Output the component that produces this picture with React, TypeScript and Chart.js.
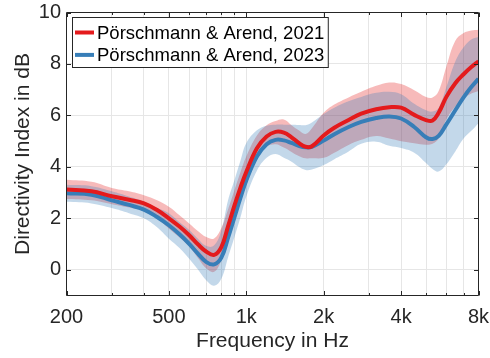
import React, { useEffect, useRef } from "react";
import { Chart, registerables } from "chart.js";

Chart.register(...registerables);

// Frequency grid of the smoothed curves (Hz)
const freqHz = [
  200, 250, 300, 350, 400, 450, 500, 550, 600, 650, 700, 750, 800, 850, 900, 950,
  1000, 1100, 1200, 1300, 1400, 1500, 1600, 1700, 1800,
  2000, 2200, 2500, 2800, 3200, 3600, 4000,
  4500, 5000, 5300, 5600, 6000, 6500, 7000, 7500, 8000,
];

// Pörschmann & Arend, 2021 — mean and spread (dB)
const di2021Mean = [
  3.12, 3.05, 2.86, 2.72, 2.58, 2.32, 2.0, 1.68, 1.34, 0.98, 0.7, 0.58, 0.88, 1.7, 2.5, 3.2,
  3.8, 4.72, 5.18, 5.36, 5.33, 5.15, 4.93, 4.78, 4.8,
  5.22, 5.52, 5.82, 6.07, 6.24, 6.32, 6.3,
  6.02, 5.82, 5.8, 6.1, 6.72, 7.25, 7.6, 7.88, 8.1,
];
const di2021Upper = [
  3.5, 3.42, 3.18, 3.05, 2.9, 2.7, 2.45, 2.12, 1.8, 1.5, 1.27, 1.22, 1.62, 2.35, 3.1, 3.8,
  4.4, 5.22, 5.62, 5.78, 5.84, 5.62, 5.42, 5.28, 5.5,
  6.1, 6.42, 6.7, 6.92, 7.15, 7.28, 7.22,
  6.98, 6.72, 6.7, 6.95, 7.9, 8.9, 9.2, 9.3, 9.33,
];
const di2021Lower = [
  2.75, 2.7, 2.55, 2.42, 2.28, 2.0, 1.6, 1.25, 0.9, 0.45, 0.05, -0.08, 0.36, 1.1, 1.92, 2.65,
  3.29, 4.3, 4.78, 4.88, 4.75, 4.58, 4.42, 4.33, 4.33,
  4.35, 4.55, 4.85, 5.05, 5.2, 5.1, 5.0,
  4.92, 4.86, 4.9, 5.1, 5.85, 6.35, 6.65, 6.85, 6.95,
];

// Pörschmann & Arend, 2023 — mean and spread (dB)
const di2023Mean = [
  2.97, 2.92, 2.7, 2.52, 2.34, 2.05, 1.73, 1.38, 1.01, 0.62, 0.3, 0.21, 0.47, 1.25, 2.05, 2.8,
  3.47, 4.4, 4.88, 5.05, 5.03, 4.93, 4.82, 4.76, 4.78,
  5.02, 5.27, 5.55, 5.75, 5.9, 5.96, 5.88,
  5.55, 5.15, 5.08, 5.2, 5.65, 6.2, 6.7, 7.1, 7.42,
];
const di2023Upper = [
  3.3, 3.25, 3.05, 2.85, 2.65, 2.4, 2.2, 1.85, 1.55, 1.2, 0.92, 0.95, 1.53, 2.71, 3.49, 4.25,
  4.92, 5.42, 5.6, 5.64, 5.64, 5.64, 5.63, 5.62, 5.72,
  6.05, 6.3, 6.55, 6.72, 6.88, 6.92, 6.82,
  6.45, 6.2, 6.15, 6.3, 7.1, 8.1, 8.65, 8.95, 9.05,
];
const di2023Lower = [
  2.64, 2.58, 2.4, 2.2, 2.0, 1.65, 1.21, 0.85, 0.43, 0.0, -0.42, -0.62, -0.35, 0.49, 1.27, 2.05,
  2.84, 3.85, 4.35, 4.5, 4.35, 4.2, 4.0, 3.88, 3.9,
  4.07, 4.3, 4.6, 4.9, 4.98, 4.82, 4.73,
  4.55, 4.15, 3.92, 3.82, 4.1, 4.6, 5.1, 5.4, 5.7,
];

// Axis ticks
const xGridFreqs = [200, 300, 400, 500, 600, 700, 800, 900, 1000, 2000, 3000, 4000, 5000, 6000, 7000, 8000];
const xLabelFreqs = [200, 500, 1000, 2000, 4000, 8000];
const xLabelTexts = ["200", "500", "1k", "2k", "4k", "8k"];
const yTickValues = [0, 2, 4, 6, 8, 10];

const seriesNames = ["Pörschmann & Arend, 2021", "Pörschmann & Arend, 2023"];
const seriesColors = ["#E41A1C", "#377EB8"];
const bandColors = ["rgba(228,26,28,0.3)", "rgba(55,126,184,0.3)"];

const FONT = '"Liberation Sans", Arial, Helvetica, sans-serif';
const AXIS_COLOR = "#262626";
const CURVE_TENSION = 0.4;

const toPoints = (ys: number[]) => freqHz.map((f, i) => ({ x: f, y: ys[i] }));

// Box around the plot area with inward tick marks (major and minor)
const axesBoxPlugin = {
  id: "axesBox",
  afterDatasetsDraw(chart: any) {
    const { ctx, chartArea: a, scales } = chart;
    const xs = scales.x;
    const ys = scales.y;
    ctx.save();
    ctx.strokeStyle = AXIS_COLOR;
    ctx.lineWidth = 1;
    ctx.beginPath();
    ctx.rect(a.left, a.top, a.right - a.left, a.bottom - a.top);
    ctx.stroke();
    ctx.beginPath();
    xGridFreqs.forEach((f) => {
      const px = Math.round(xs.getPixelForValue(f)) + 0.5;
      const len = xLabelFreqs.includes(f) ? 4.5 : 2.5;
      ctx.moveTo(px, a.bottom);
      ctx.lineTo(px, a.bottom - len);
      ctx.moveTo(px, a.top);
      ctx.lineTo(px, a.top + len);
    });
    yTickValues.forEach((v) => {
      const py = Math.round(ys.getPixelForValue(v)) + 0.5;
      ctx.moveTo(a.left, py);
      ctx.lineTo(a.left + 4.5, py);
      ctx.moveTo(a.right, py);
      ctx.lineTo(a.right - 4.5, py);
    });
    ctx.stroke();
    ctx.restore();
  },
};

// Boxed legend in the upper-left corner of the plot area
const boxedLegendPlugin = {
  id: "boxedLegend",
  afterDraw(chart: any) {
    const { ctx, chartArea: a } = chart;
    ctx.save();
    ctx.font = `18.5px ${FONT}`;
    const boxX = Math.round(a.left + 5.5) + 0.5;
    const boxY = Math.round(a.top + 4) + 0.5;
    const rowH = 22.4;
    const firstRow = 15;
    const lineX0 = boxX + 2.5;
    const lineX1 = lineX0 + 19;
    const textX = lineX1 + 3;
    const textW = Math.max(...seriesNames.map((s) => ctx.measureText(s).width));
    const boxW = textX + textW + 4 - boxX;
    const boxH = 50;
    ctx.fillStyle = "#ffffff";
    ctx.fillRect(boxX, boxY, boxW, boxH);
    ctx.strokeStyle = AXIS_COLOR;
    ctx.lineWidth = 1;
    ctx.strokeRect(boxX, boxY, boxW, boxH);
    seriesNames.forEach((name, i) => {
      const cy = boxY + firstRow + i * rowH;
      ctx.strokeStyle = seriesColors[i];
      ctx.lineWidth = 4;
      ctx.beginPath();
      ctx.moveTo(lineX0, cy);
      ctx.lineTo(lineX1, cy);
      ctx.stroke();
      ctx.fillStyle = "#000000";
      ctx.textAlign = "left";
      ctx.textBaseline = "middle";
      ctx.fillText(name, textX, cy + 1);
    });
    ctx.restore();
  },
};

export default function App() {
  const canvasRef = useRef<HTMLCanvasElement | null>(null);

  useEffect(() => {
    const canvas = canvasRef.current;
    if (!canvas) return;

    const bandBase = {
      pointRadius: 0,
      borderWidth: 0,
      tension: CURVE_TENSION,
    };

    const chart = new Chart(canvas, {
      type: "line",
      data: {
        datasets: [
          { ...bandBase, label: "2021 lower", data: toPoints(di2021Lower), fill: false, order: 6, backgroundColor: bandColors[0] },
          { ...bandBase, label: "2021 upper", data: toPoints(di2021Upper), fill: "-1", order: 5, backgroundColor: bandColors[0] },
          { ...bandBase, label: "2023 lower", data: toPoints(di2023Lower), fill: false, order: 4, backgroundColor: bandColors[1] },
          { ...bandBase, label: "2023 upper", data: toPoints(di2023Upper), fill: "-1", order: 3, backgroundColor: bandColors[1] },
          {
            label: seriesNames[1],
            data: toPoints(di2023Mean),
            borderColor: seriesColors[1],
            borderWidth: 4,
            pointRadius: 0,
            fill: false,
            order: 2,
            tension: CURVE_TENSION,
          },
          {
            label: seriesNames[0],
            data: toPoints(di2021Mean),
            borderColor: seriesColors[0],
            borderWidth: 4,
            pointRadius: 0,
            fill: false,
            order: 1,
            tension: CURVE_TENSION,
          },
        ],
      },
      options: {
        responsive: false,
        animation: false,
        events: [],
        layout: { padding: { left: 0, top: 12.5, right: 11.5, bottom: 0 } },
        plugins: {
          legend: { display: false },
          tooltip: { enabled: false },
        },
        scales: {
          x: {
            type: "logarithmic",
            min: 200,
            max: 8000,
            afterBuildTicks: (scale: any) => {
              scale.ticks = xGridFreqs.map((v) => ({ value: v }));
            },
            afterFit: (scale: any) => {
              scale.height = 62.5;
              scale.paddingLeft = 0;
              scale.paddingRight = 0;
            },
            ticks: {
              autoSkip: false,
              maxRotation: 0,
              minRotation: 0,
              padding: 9.5,
              color: AXIS_COLOR,
              font: { family: FONT, size: 20 },
              callback: (value: any) => {
                const k = xLabelFreqs.indexOf(Number(value));
                return k >= 0 ? xLabelTexts[k] : "";
              },
            },
            grid: { color: "#e6e6e6", lineWidth: 1, drawTicks: false },
            border: { display: false },
            title: {
              display: true,
              text: "Frequency in Hz",
              color: AXIS_COLOR,
              font: { family: FONT, size: 21 },
              padding: { top: 0, bottom: 4.4 },
            },
          },
          y: {
            type: "linear",
            min: -1,
            max: 10,
            afterBuildTicks: (scale: any) => {
              scale.ticks = yTickValues.map((v) => ({ value: v }));
            },
            afterFit: (scale: any) => {
              scale.width = 66.5;
              scale.paddingTop = 0;
              scale.paddingBottom = 0;
            },
            ticks: {
              padding: 5.5,
              color: AXIS_COLOR,
              font: { family: FONT, size: 20 },
              callback: (value: any) => String(value),
            },
            grid: { color: "#e6e6e6", lineWidth: 1, drawTicks: false },
            border: { display: false },
            title: {
              display: true,
              text: "Directivity Index in dB",
              color: AXIS_COLOR,
              font: { family: FONT, size: 21 },
              padding: { top: 11, bottom: 0 },
            },
          },
        },
      },
      plugins: [axesBoxPlugin, boxedLegendPlugin],
    });

    return () => chart.destroy();
  }, []);

  return (
    <div style={{ position: "absolute", left: 0, top: 0, width: 490, height: 358, background: "#fff" }}>
      <canvas ref={canvasRef} width={490} height={358} style={{ display: "block" }} />
    </div>
  );
}
